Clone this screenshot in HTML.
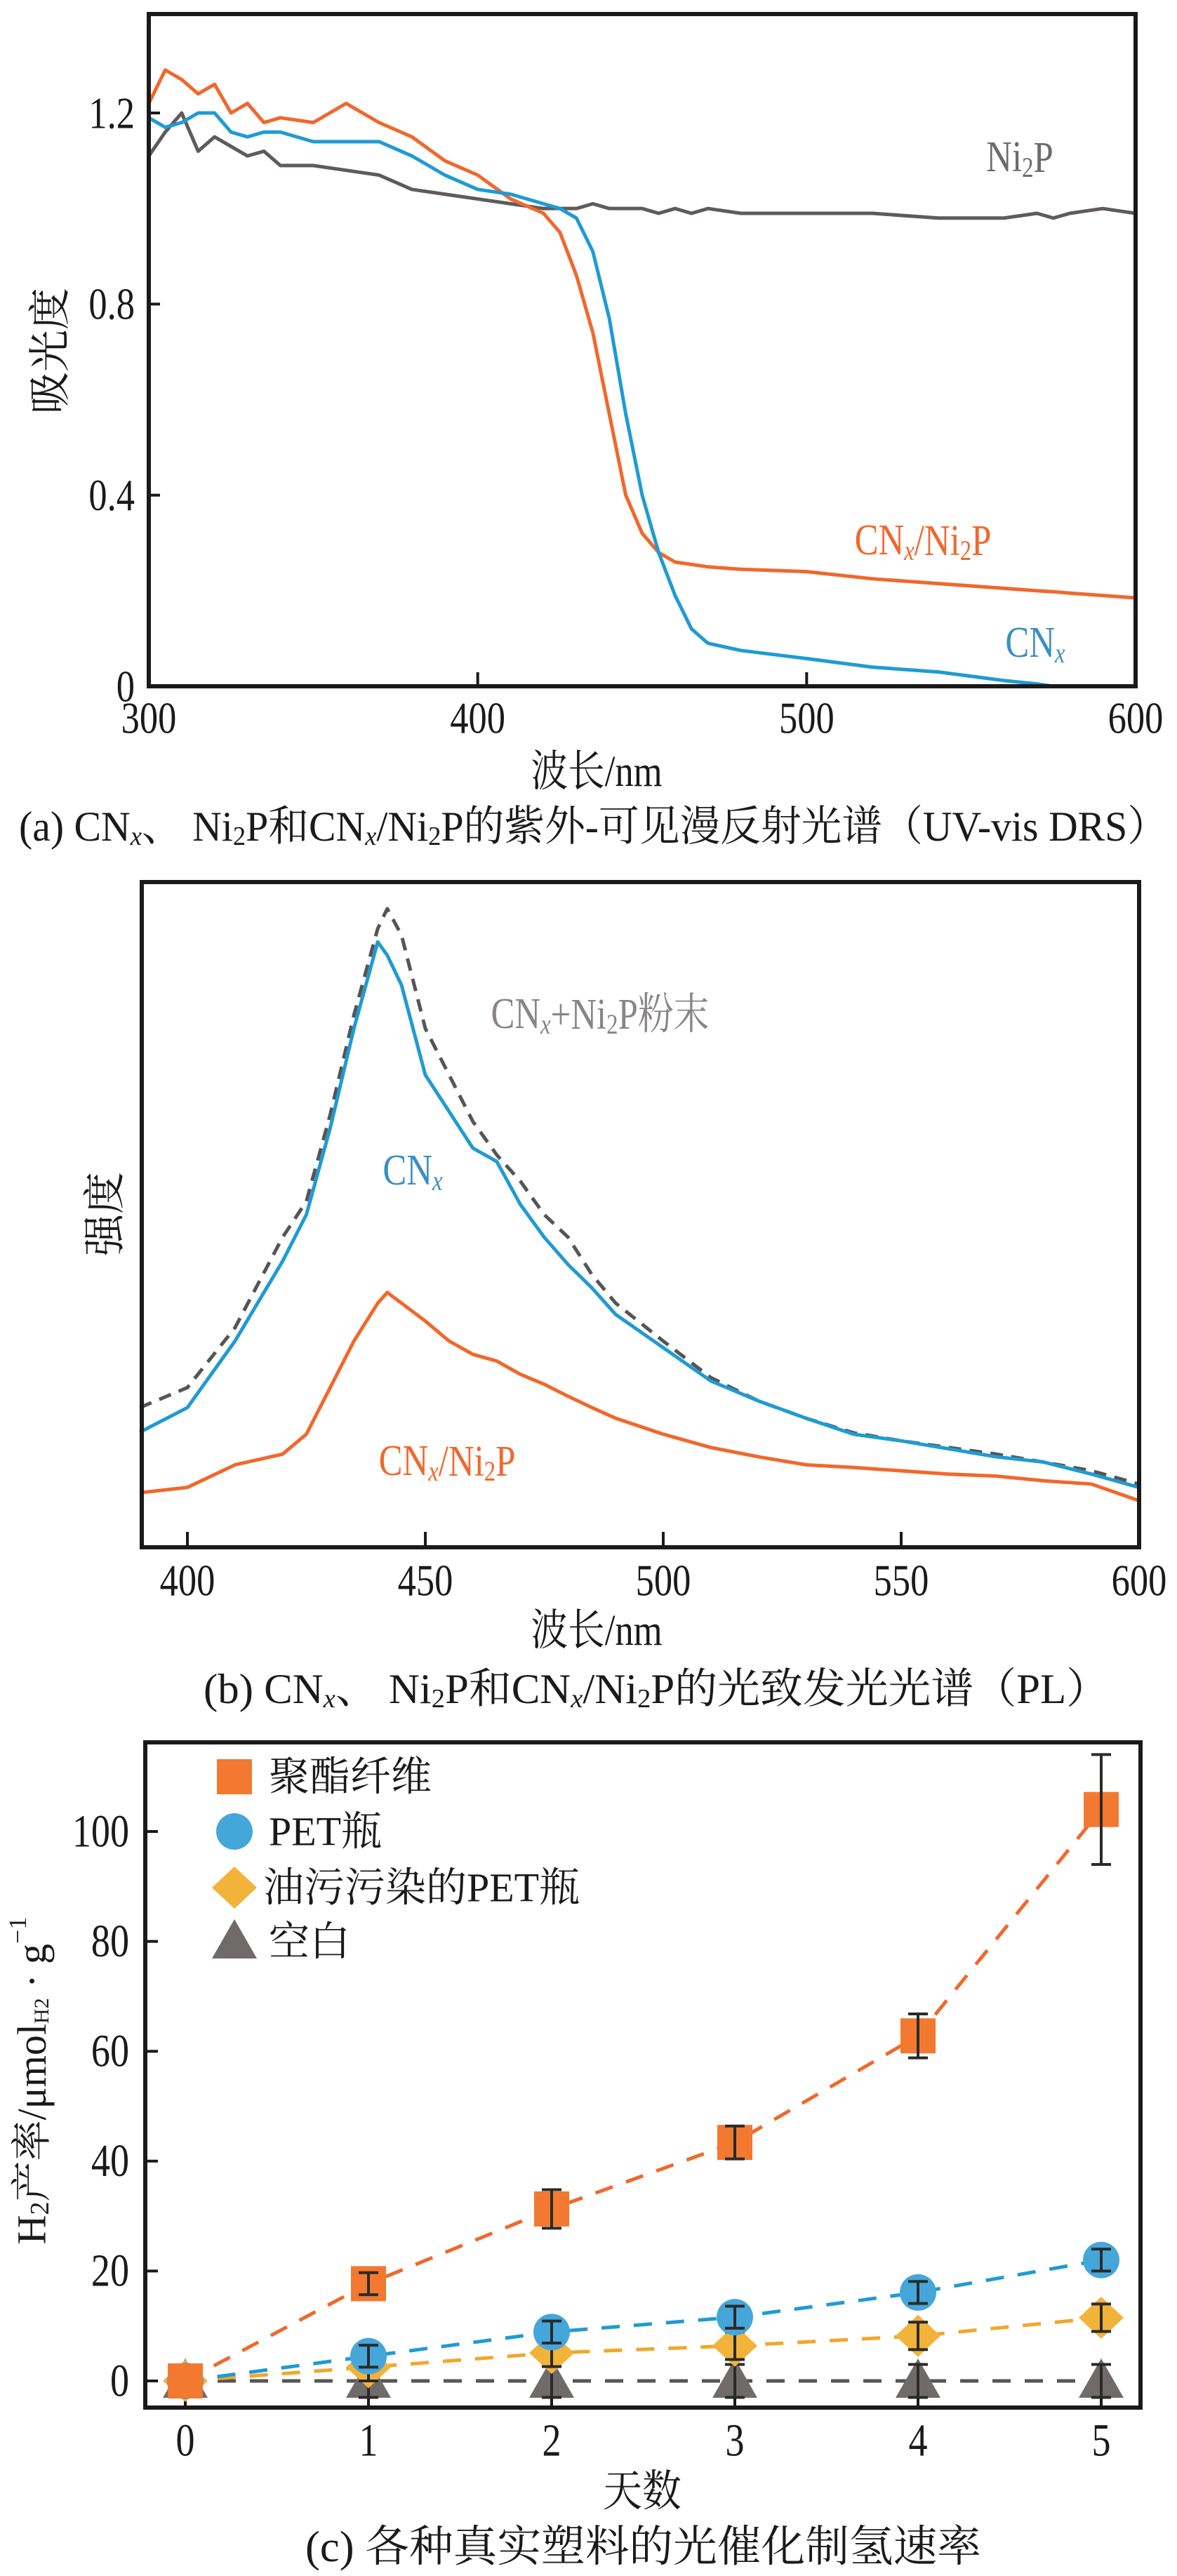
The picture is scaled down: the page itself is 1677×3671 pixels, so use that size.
<!DOCTYPE html>
<html><head><meta charset="utf-8"><style>
html,body{margin:0;padding:0;background:#fff}
svg{display:block}
text{font-family:"Liberation Serif","Noto Serif CJK SC","Noto Sans CJK SC",serif;fill:#1a1a1a}
</style></head><body>
<svg id="fig" width="1677" height="3671" viewBox="0 0 1677 3671" xmlns="http://www.w3.org/2000/svg">
<g id="pa"></g>
<g id="pb"></g>
<g id="pc"></g>
</svg>
<script>
// ---------- Panel A data ----------
const aWave = [300,305,310,315,320,325,330,335,340,350,360,370,380,390,400,410,420,425,430,435,440,445,450,455,460,465,470,480,500,520,540,560,570,575,580,590,600];
const aNi2P = [1.11,1.16,1.20,1.12,1.15,1.13,1.11,1.12,1.09,1.09,1.08,1.07,1.04,1.03,1.02,1.01,1.00,1.00,1.00,1.01,1.00,1.00,1.00,0.99,1.00,0.99,1.00,0.99,0.99,0.99,0.98,0.98,0.99,0.98,0.99,1.00,0.99];
const aComp = [1.22,1.29,1.27,1.24,1.26,1.20,1.22,1.18,1.19,1.18,1.22,1.18,1.15,1.10,1.07,1.02,0.99,0.95,0.86,0.74,0.57,0.40,0.32,0.28,0.26,0.255,0.25,0.245,0.24,0.225,0.215,0.205,0.20,0.198,0.195,0.19,0.185];
const aCN = [1.19,1.17,1.18,1.20,1.20,1.16,1.15,1.16,1.16,1.14,1.14,1.14,1.11,1.07,1.04,1.03,1.01,1.00,0.98,0.91,0.77,0.57,0.40,0.28,0.19,0.12,0.09,0.075,0.058,0.04,0.03,0.012,0.005,0.0,0.0,0.0,0.0];
const aXTicks = [300,400,500,600];
const aYTicks = [0,0.4,0.8,1.2];
const aYLabels = ["0","0.4","0.8","1.2"];
// ---------- Panel B data ----------
const bWave = [390,400,410,420,425,430,435,440,442,445,450,455,460,465,470,475,480,485,490,500,510,520,530,540,550,560,570,580,590,600];
const bCN = [17.3,21,31,43,50,63,78,91,89,84.5,71,65.5,60,58,51.5,46.6,42.5,39,35,30,25,22,19.4,17,16,14.8,13.6,12.8,11,9];
const bMix = [21,24,33,46.6,52,65,80,93,96,92,78,71,64,59,55,50,46.6,41,36.7,31,25.5,22,19.4,17.2,16,15,14,12.8,11.5,9.5];
const bComp = [8.2,9,12.4,14,17,24,31,36.7,38.3,36.7,34,31,29,28,26,24.5,22.7,21,19.4,17,15,13.6,12.4,12,11.5,11,10.7,10,9.5,7];
const bXTicks = [400,450,500,550,600];
// ---------- Panel C data ----------
const cDays = [0,1,2,3,4,5];
const cPolyester = [0,17.7,31.3,43.4,62.8,104];
const cPolyErr = [0,2,3.5,3,4,10];
const cPET = [0,4.5,8.9,11.6,16.1,22];
const cPETErr = [0,2,2,2,2,2];
const cOil = [0,2.5,5.1,6.4,8.2,11.5];
const cOilErr = [0,2.5,2.5,2.5,2.5,2.5];
const cBlank = [0,0,0,0,0,0];
const cBlankErr = [0,3,3,3,3,3];
const cYTicks = [0,20,40,60,80,100];

const NS = "http://www.w3.org/2000/svg";
function mk(parent, tag, attrs){const e=document.createElementNS(NS,tag);for(const k in attrs)e.setAttribute(k,attrs[k]);parent.appendChild(e);return e;}
function txt(parent,x,y,s,size,anchor,sx,color){
  const t=mk(parent,'text',{transform:`translate(${x},${y}) scale(${sx||0.82},1)`,'font-size':size,'text-anchor':anchor||'middle','dominant-baseline':'central'});
  if(color) t.setAttribute('style','fill:'+color);
  t.innerHTML=s;return t;}

// ===== Panel A =====
(function(){
  const g=document.getElementById('pa');
  const L=212,R=1618,T=20,B=978;
  const xs=v=>L+(v-300)/300*(R-L);
  const ys=v=>B-v/1.2*(B-161);
  const mkLine=(arr,color,name)=>{const p=mk(g,'polyline',{points:aWave.map((w,i)=>xs(w)+','+ys(arr[i])).join(' '),fill:'none',stroke:color,'stroke-width':5,'stroke-linejoin':'round'});
    };
  mkLine(aNi2P,'#5f5b5b','ni2p-line');
  mkLine(aComp,'#f0682c','cnx-ni2p-line');
  mkLine(aCN,'#1f9bd3','cnx-line');
  const f=mk(g,'rect',{x:L,y:T,width:R-L,height:B-T,fill:'none',stroke:'#1a1a1a','stroke-width':6});
  
  aXTicks.forEach(v=>{ if(v>300&&v<600) mk(g,'line',{x1:xs(v),x2:xs(v),y1:B,y2:B-20,stroke:'#1a1a1a','stroke-width':4});
    const t=txt(g,xs(v),1023,v,64);});
  aYTicks.forEach((v,i)=>{ mk(g,'line',{x1:L,x2:L+16,y1:ys(v),y2:ys(v),stroke:'#1a1a1a','stroke-width':4});
    const t=txt(g,192,ys(v),aYLabels[i],64,'end');});
  let t=txt(g,850,1100,'波长/nm',62,'middle',0.85);
  t=mk(g,'text',{transform:'translate(72,500) rotate(-90)','font-size':60,'text-anchor':'middle','dominant-baseline':'central'});t.textContent='吸光度';
  
  t=txt(g,1453,224,'Ni<tspan font-size="40" dy="14">2</tspan><tspan dy="-14">P</tspan>',62,'middle',0.82,'#6e6a6a');
  t=txt(g,1315,770,'CN<tspan font-size="40" font-style="italic" dy="14">x</tspan><tspan dy="-14">/Ni</tspan><tspan font-size="40" dy="14">2</tspan><tspan dy="-14">P</tspan>',62,'middle',0.82,'#f0682c');
  t=txt(g,1475,916,'CN<tspan font-size="40" font-style="italic" dy="14">x</tspan>',62,'middle',0.82,'#3a8fbf');
  t=mk(g,'text',{x:27,y:1178,'font-size':60,'dominant-baseline':'central',textLength:1637,lengthAdjust:'spacingAndGlyphs'});
  t.innerHTML='(a) CN<tspan font-size="38" font-style="italic" dy="14">x</tspan><tspan dy="-14">、 Ni</tspan><tspan font-size="38" dy="14">2</tspan><tspan dy="-14">P和CN</tspan><tspan font-size="38" font-style="italic" dy="14">x</tspan><tspan dy="-14">/Ni</tspan><tspan font-size="38" dy="14">2</tspan><tspan dy="-14">P的紫外-可见漫反射光谱（UV-vis DRS）</tspan>';
  
})();

// ===== Panel B =====
(function(){
  const g=document.getElementById('pb');
  const L=202,R=1623,T=1257,B=2205;
  const xs=v=>267+(v-400)/50*339;
  const ys=v=>B-v/100*(B-T);
  const mkLine=(arr,color,name,dash)=>{const p=mk(g,'polyline',{points:bWave.map((w,i)=>xs(w)+','+ys(arr[i])).join(' '),fill:'none',stroke:color,'stroke-width':5,'stroke-linejoin':'round'});
    if(dash)p.setAttribute('stroke-dasharray',dash);
    };
  mkLine(bComp,'#f0682c','cnx-ni2p-pl-line');
  mkLine(bMix,'#555','cnx-ni2p-powder-line','18,12');
  mkLine(bCN,'#1f9bd3','cnx-pl-line');
  const f=mk(g,'rect',{x:L,y:T,width:R-L,height:B-T,fill:'none',stroke:'#1a1a1a','stroke-width':6});
  
  bXTicks.forEach(v=>{ if(v<600) mk(g,'line',{x1:xs(v),x2:xs(v),y1:B,y2:B-22,stroke:'#1a1a1a','stroke-width':4});
    const t=txt(g,xs(v),2252,v,64);});
  let t=txt(g,850,2324,'波长/nm',62,'middle',0.85);
  t=mk(g,'text',{transform:'translate(150,1730) rotate(-90)','font-size':60,'text-anchor':'middle','dominant-baseline':'central'});t.textContent='强度';
  
  t=txt(g,855,1445,'CN<tspan font-size="40" font-style="italic" dy="14">x</tspan><tspan dy="-14">+Ni</tspan><tspan font-size="40" dy="14">2</tspan><tspan dy="-14">P粉末</tspan>',62,'middle',0.82,'#8a8585');
  t=txt(g,588,1668,'CN<tspan font-size="40" font-style="italic" dy="14">x</tspan>',62,'middle',0.82,'#3a8fbf');
  t=txt(g,637,2082,'CN<tspan font-size="40" font-style="italic" dy="14">x</tspan><tspan dy="-14">/Ni</tspan><tspan font-size="40" dy="14">2</tspan><tspan dy="-14">P</tspan>',62,'middle',0.82,'#f0682c');
  t=mk(g,'text',{x:290,y:2407,'font-size':60,'dominant-baseline':'central',textLength:1290,lengthAdjust:'spacingAndGlyphs'});
  t.innerHTML='(b) CN<tspan font-size="38" font-style="italic" dy="14">x</tspan><tspan dy="-14">、 Ni</tspan><tspan font-size="38" dy="14">2</tspan><tspan dy="-14">P和CN</tspan><tspan font-size="38" font-style="italic" dy="14">x</tspan><tspan dy="-14">/Ni</tspan><tspan font-size="38" dy="14">2</tspan><tspan dy="-14">P的光致发光光谱（PL）</tspan>';
  
})();

// ===== Panel C =====
(function(){
  const g=document.getElementById('pc');
  const L=207,R=1625,T=2483,B=3431;
  const xs=d=>264+d*261;
  const ys=v=>3393-v*7.83;
  const f=mk(g,'rect',{x:L,y:T,width:R-L,height:B-T,fill:'none',stroke:'#1a1a1a','stroke-width':6});
  
  cDays.forEach(d=>{ mk(g,'line',{x1:xs(d),x2:xs(d),y1:B,y2:B-40,stroke:'#1a1a1a','stroke-width':4});
    const t=txt(g,xs(d),3478,d,66);});
  cYTicks.forEach(v=>{ mk(g,'line',{x1:L,x2:L+18,y1:ys(v),y2:ys(v),stroke:'#1a1a1a','stroke-width':4});
    const t=txt(g,184,ys(v),v,66,'end');});
  const series=[
    {v:cBlank,e:cBlankErr,c:'#404040',m:'tri',n:'blank'},
    {v:cOil,e:cOilErr,c:'#f2b136',m:'dia',n:'oil-pet'},
    {v:cPET,e:cPETErr,c:'#3aa3d8',m:'cir',n:'pet-bottle'},
    {v:cPolyester,e:cPolyErr,c:'#f2792f',m:'sq',n:'polyester'}];
  const lineCol={blank:'#555',['oil-pet']:'#f0a82a',['pet-bottle']:'#1f9bd3',polyester:'#f0682c'};
  const fillCol={blank:'#6f6b6b',['oil-pet']:'#f2b33a',['pet-bottle']:'#45a6da',polyester:'#f2792f'};
  function marker(m,x,y,col){
    if(m==='sq') return mk(g,'rect',{x:x-25,y:y-25,width:50,height:50,fill:col});
    if(m==='cir') return mk(g,'circle',{cx:x,cy:y,r:26,fill:col});
    if(m==='dia') return mk(g,'polygon',{points:`${x},${y-30} ${x+32},${y} ${x},${y+30} ${x-32},${y}`,fill:col});
    return mk(g,'polygon',{points:`${x},${y-32} ${x+32},${y+24} ${x-32},${y+24}`,fill:col});
  }
  series.forEach(s=>{
    const p=mk(g,'polyline',{points:cDays.map((d,i)=>xs(d)+','+ys(s.v[i])).join(' '),fill:'none',stroke:lineCol[s.n],'stroke-width':5,'stroke-dasharray':'26,20'});
    
  });
  series.forEach(s=>{
    cDays.forEach((d,i)=>{
      const mm=marker(s.m,xs(d),ys(s.v[i]),fillCol[s.n]);
      
      if(s.e[i]>0){
        const x=xs(d),y1=ys(s.v[i]-s.e[i]),y2=ys(s.v[i]+s.e[i]);
        const eb=mk(g,'path',{d:`M${x},${y1}V${y2}M${x-14},${y1}H${x+14}M${x-14},${y2}H${x+14}`,stroke:'#2a2a2a','stroke-width':4,fill:'none'});
        
      }
    });
  });
  // legend
  const leg=[['sq','#f2792f','聚酯纤维',2532],['cir','#45a6da','PET瓶',2610],['dia','#f2b33a','油污污染的PET瓶',2690],['tri','#6f6b6b','空白',2767]];
  leg.forEach(l=>{
    const mm=marker(l[0],334,l[3],l[1]);
    const t=mk(g,'text',{x:l[0]==='dia'?375:383,y:l[3],'font-size':58,'dominant-baseline':'central'});t.textContent=l[2];
    
  });
  let t=txt(g,915,3550,'天数',62,'middle',0.9);
  t=mk(g,'text',{transform:'translate(45,2965) rotate(-90)','font-size':58,'text-anchor':'middle','dominant-baseline':'central'});
  t.innerHTML='H<tspan font-size="38" dy="12">2</tspan><tspan dy="-12">产率/μmol</tspan><tspan font-size="30" dy="14">H2</tspan><tspan dy="-14"> · g</tspan><tspan font-size="36" dy="-20">−1</tspan>';
  
  t=mk(g,'text',{x:435,y:3630,'font-size':62,'dominant-baseline':'central',textLength:963,lengthAdjust:'spacingAndGlyphs'});
  t.textContent='(c) 各种真实塑料的光催化制氢速率';
  
})();
</script>
</body></html>
